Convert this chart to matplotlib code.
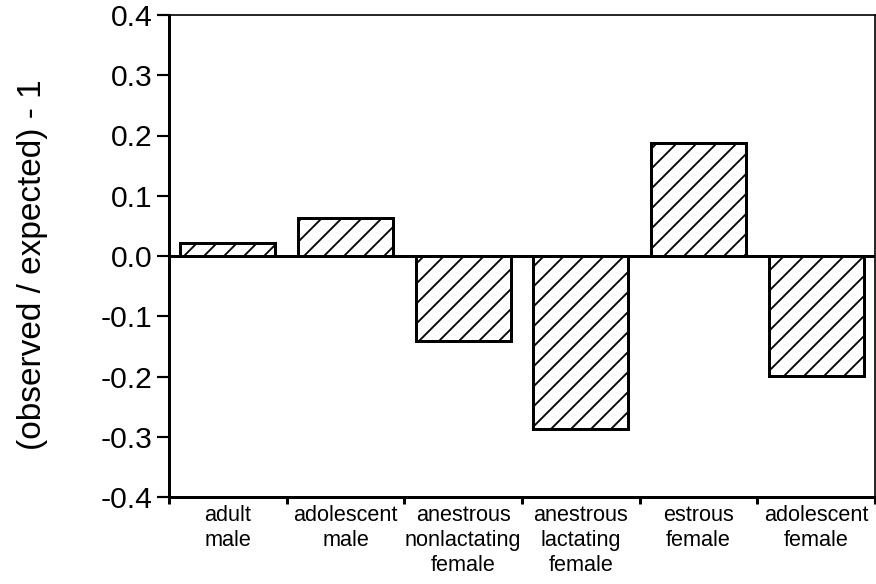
import numpy as np
import matplotlib
matplotlib.use('Agg')
import matplotlib.pyplot as plt

categories = ['adult\nmale', 'adolescent\nmale', 'anestrous\nnonlactating\nfemale',
              'anestrous\nlactating\nfemale', 'estrous\nfemale', 'adolescent\nfemale']
values = [0.021, 0.063, -0.141, -0.287, 0.187, -0.199]
y_ticks = [0.4, 0.3, 0.2, 0.1, 0.0, -0.1, -0.2, -0.3, -0.4]

plt.rcParams['font.family'] = ['Liberation Sans', 'DejaVu Sans']
plt.rcParams['hatch.linewidth'] = 1.1

fig = plt.figure(figsize=(7.3, 584 / 120), dpi=120)
ax = fig.add_axes([169 / 876, 1 - 497 / 584, 706 / 876, 482 / 584])

x = np.arange(len(categories))
ax.bar(x, values, width=0.81, color='white', edgecolor='black',
       linewidth=1.8, hatch='//', zorder=2)
ax.axhline(0, color='black', linewidth=1.8, zorder=3)

ax.set_xlim(-0.5, len(categories) - 0.5)
ax.set_ylim(-0.4, 0.4)

# y axis
ax.set_yticks(y_ticks)
ax.set_yticklabels(['%.1f' % v for v in y_ticks], fontsize=18)
ax.tick_params(axis='y', direction='out', length=7, width=1.3, pad=3)
ax.set_ylabel('(observed / expected) - 1', fontsize=20)
ax.yaxis.set_label_coords(-0.171, 0.483)

# x axis: ticks at category boundaries, labels at centres
ax.set_xticks(np.arange(-0.5, len(categories), 1.0))
ax.set_xticklabels([])
ax.tick_params(axis='x', which='major', direction='out', length=4, width=1.8)
ax.set_xticks(x, minor=True)
ax.set_xticklabels(categories, minor=True, fontsize=13, linespacing=1.25)
ax.tick_params(axis='x', which='minor', length=0, pad=5)

ax.spines['left'].set_linewidth(1.8)
ax.spines['bottom'].set_linewidth(1.8)
ax.spines['top'].set_linewidth(1.0)
ax.spines['right'].set_linewidth(1.0)

fig.savefig('out.png', dpi=120)
